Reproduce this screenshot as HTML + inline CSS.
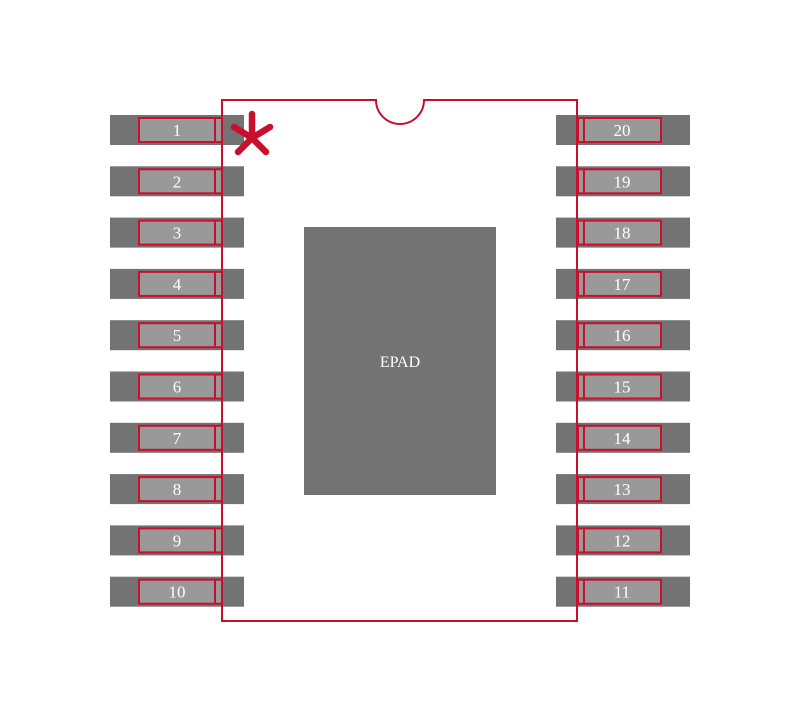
<!DOCTYPE html>
<html><head><style>body{margin:0;background:#fff}</style></head><body>
<svg width="800" height="722" xmlns="http://www.w3.org/2000/svg" font-family="Liberation Serif, serif">
<g id="p"></g>
<rect x="304" y="227" width="192" height="268" fill="#737373"/>
<text x="400" y="367" fill="#fff" font-size="16" text-anchor="middle">EPAD</text>
<g fill="none" stroke="#c8102e" stroke-width="2">
<path d="M222 100 H376 A24 24 0 0 0 424 100 H577 V621 H222 Z"/>
</g>
<g stroke="#c8102e" stroke-width="6.5" stroke-linecap="round">
<line x1="252" y1="114" x2="252" y2="138"/>
<line x1="252" y1="138" x2="234" y2="127"/>
<line x1="252" y1="138" x2="270" y2="127"/>
<line x1="252" y1="138" x2="238" y2="152"/>
<line x1="252" y1="138" x2="266" y2="152"/>
</g>
</svg>
<script>
var g=document.getElementById('p'),s='';
for(var i=0;i<10;i++){var y=115+i*51.3;
s+='<rect x="110" y="'+y+'" width="134" height="30" fill="#737373"/>';
s+='<rect x="139" y="'+(y+3)+'" width="83" height="24" fill="#999" stroke="#c8102e" stroke-width="2"/>';
s+='<line x1="215" y1="'+(y+3)+'" x2="215" y2="'+(y+27)+'" stroke="#c8102e" stroke-width="2"/>';
s+='<text x="177" y="'+(y+21)+'" fill="#fff" font-size="17" text-anchor="middle" font-family="Liberation Serif, serif">'+(i+1)+'</text>';
s+='<rect x="556" y="'+y+'" width="134" height="30" fill="#737373"/>';
s+='<rect x="578" y="'+(y+3)+'" width="83" height="24" fill="#999" stroke="#c8102e" stroke-width="2"/>';
s+='<line x1="584" y1="'+(y+3)+'" x2="584" y2="'+(y+27)+'" stroke="#c8102e" stroke-width="2"/>';
s+='<text x="622" y="'+(y+21)+'" fill="#fff" font-size="17" text-anchor="middle" font-family="Liberation Serif, serif">'+(20-i)+'</text>';}
g.innerHTML=s;
</script>
</body></html>
